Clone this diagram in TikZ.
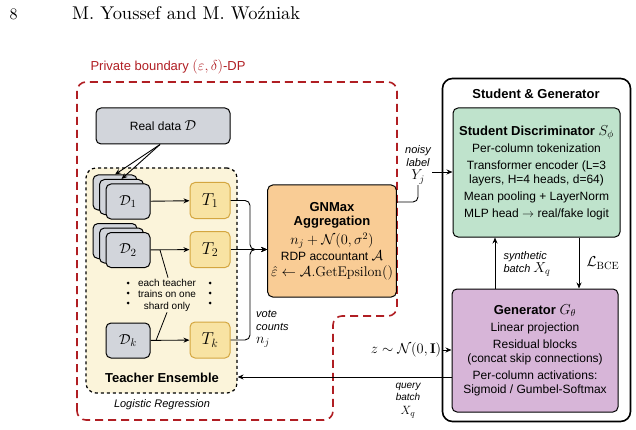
\documentclass[tikz,border=0pt]{standalone}
\usepackage{amsmath}
\usepackage{amssymb}
\usepackage{fontspec}
\setsansfont{Liberation Sans}
\usetikzlibrary{arrows.meta,positioning}

\definecolor{dpred}{HTML}{B01E23}
\definecolor{grayfill}{HTML}{D2D5DB}
\definecolor{ensfill}{HTML}{FBF4DA}
\definecolor{tfill}{HTML}{F8E3A3}
\definecolor{tborder}{HTML}{D4A640}
\definecolor{aggfill}{HTML}{F9CC95}
\definecolor{discfill}{HTML}{BFE3CC}
\definecolor{genfill}{HTML}{D7B5D8}

% larger math inside sans text
\newcommand{\mth}[1]{{\fontsize{14}{16}\selectfont$#1$}}

\begin{document}
\begin{tikzpicture}[x=1pt, y=-1pt, font=\sffamily\fontsize{12}{14}\selectfont,
  >={Stealth[length=6pt,width=5pt]},
  box/.style={draw, rounded corners=5pt, line width=1pt, align=center},
  databox/.style={box, fill=grayfill, minimum width=44pt, minimum height=35pt},
  teacher/.style={box, draw=tborder, fill=tfill, minimum width=40pt, minimum height=36pt, font=\fontsize{17}{19}\selectfont},
  lbl/.style={font=\sffamily\itshape\fontsize{11}{13}\selectfont, align=center, inner sep=1pt}]
\useasboundingbox (0,0) rectangle (636,430);

% Running head
\node[anchor=base west, inner sep=0, font=\rmfamily\fontsize{10}{12}\selectfont] (pgnum) at (9.5,20) {\scalebox{1.6}{8}};
\node[anchor=base west, inner sep=0, font=\rmfamily\fontsize{10}{12}\selectfont] (authors) at (72,20) {\resizebox{228pt}{!}{M. Youssef and M. Woźniak}};

% Private boundary
\draw[dpred, line width=1.6pt, dash pattern=on 8pt off 5pt, rounded corners=9pt]
  (77,420) -- (77,82) -- (397,82) -- (397,316) -- (333,316) -- (333,420) -- cycle;
\node[anchor=west, text=dpred, font=\sffamily\fontsize{13}{15}\selectfont] (dplabel) at (87,67) {Private boundary \mth{(\varepsilon,\delta)}-DP};

% Real data
\node[databox, minimum width=134pt, minimum height=36pt] (real) at (163,126) {Real data \mth{\mathcal{D}}};

% Teacher ensemble
\node[draw, dashed, line width=1.2pt, fill=ensfill, rounded corners=10pt, minimum width=151pt, minimum height=225pt] (ens) at (161.5,280.5) {};
\node[font=\sffamily\bfseries\fontsize{13}{15}\selectfont] (enstitle) at (162,378) {Teacher Ensemble};
\node[lbl] (logreg) at (162,405) {Logistic Regression};

% Shards (stacked)
\foreach \n/\y in {1/201.5, 2/250} {
  \node[databox] (d\n c) at (115,{\y-9}) {};
  \node[databox] (d\n b) at (121.5,{\y-4.5}) {};
  \node[databox, font=\fontsize{15}{17}\selectfont] (d\n) at (128,\y) {$\mathcal{D}_\n$};
}
\node[databox, font=\fontsize{15}{17}\selectfont] (dk) at (128,340.5) {$\mathcal{D}_k$};

% Teachers
\node[teacher] (t1) at (210,200.5) {$T_1$};
\node[teacher] (t2) at (210,249.5) {$T_2$};
\node[teacher] (tk) at (210,340) {$T_k$};

% Dots
\foreach \x in {128, 210}
  \foreach \y in {283, 293, 303}
    \fill (\x,\y) circle (1.5pt);

% Shards -> teachers
\draw[->, line width=0.9pt] (real.south) ++(-3pt,0) coordinate (rs) -- (d1c.north);
\draw[->, line width=0.9pt] (rs) -- (d1b.north);
\draw[->, line width=0.9pt] (d1) -- (t1);
\draw[->, line width=0.9pt] (d2) -- (t2);
\draw[->, line width=0.9pt] (dk) -- (tk);

% Note
\node[font=\sffamily\fontsize{10}{11.5}\selectfont, align=center, inner sep=1pt] (note) at (167,295) {each teacher\\trains on one\\shard only};
\coordinate (n2) at (160,250);
\coordinate (nk) at (156,340.5);
\draw[line width=0.8pt] ([xshift=1pt]note.north) -- (n2);
\draw[line width=0.8pt] (note.south) -- (nk);

% Votes -> aggregation
\node[box, fill=aggfill, minimum width=118pt, minimum height=112pt] (agg) at (332,241) {%
  {\bfseries\fontsize{13}{15}\selectfont GNMax}\\
  {\bfseries\fontsize{13}{15}\selectfont Aggregation}\\[4pt]
  \mth{n_j+\mathcal{N}(0,\sigma^2)}\\[2pt]
  RDP accountant \mth{\mathcal{A}}\\[2pt]
  \mth{\hat{\varepsilon}\leftarrow\mathcal{A}.\mathrm{GetEpsilon}()}};
\coordinate (join) at (250,249.5);
\draw[->, line width=0.9pt, rounded corners=5pt] (t1.east) -| (join) -- (t2.east -| agg.west);
\draw[->, line width=0.9pt, rounded corners=5pt] (tk.east) -| (join) -- (t2.east -| agg.west);
\draw[->, line width=0.9pt] (t2.east) -- (t2.east -| agg.west);
\node[lbl, anchor=north west, align=left] (votes) at (255,309) {vote\\counts\\\mth{n_j}};

% Student & Generator
\node[draw, line width=1.6pt, fill=white, rounded corners=10pt, minimum width=188pt, minimum height=343pt] (sg) at (536.5,250) {};
\node[font=\sffamily\bfseries\fontsize{13}{15}\selectfont] (sgtitle) at (536,94) {Student \& Generator};

\node[box, fill=discfill, minimum width=167pt, minimum height=129pt] (disc) at (536.5,172.5) {%
  {\bfseries\fontsize{13}{15}\selectfont Student Discriminator \mth{S_\phi}}\\[3pt]
  Per-column tokenization\\[3pt]
  Transformer encoder (L=3\\
  layers, H=4 heads, d=64)\\[3pt]
  Mean pooling + LayerNorm\\[3pt]
  MLP head $\rightarrow$ real/fake logit};

\node[box, fill=genfill, minimum width=166pt, minimum height=123pt] (gen) at (535,350.5) {%
  {\bfseries\fontsize{13}{15}\selectfont Generator \mth{G_\theta}}\\[3pt]
  Linear projection\\[3pt]
  Residual blocks\\
  (concat skip connections)\\[3pt]
  Per-column activations:\\
  Sigmoid / Gumbel-Softmax};

% Noisy label
\node[lbl] (noisy) at (418,165) {noisy\\label\\\mth{Y_j}};
\draw[line width=0.9pt, rounded corners=5pt] ([yshift=39pt]agg.east) -| (noisy.south);
\draw[->, line width=0.9pt] ([yshift=-7pt]noisy.east) -- ([yshift=-7pt]noisy.east -| disc.west);

% Generator <-> discriminator
\draw[->, line width=0.9pt] ([xshift=-40pt]gen.north) -- ([xshift=-40pt]gen.north |- disc.south);
\draw[->, line width=0.9pt] ([xshift=42.5pt]disc.south) -- ([xshift=42.5pt]disc.south |- gen.north);
\node[lbl, align=left] (synth) at (527,264) {synthetic\\batch \mth{X_q}};
\node[font=\fontsize{15}{17}\selectfont] (bce) at (603,263) {$\mathcal{L}_{\mathrm{BCE}}$};

% Noise input
\node[inner sep=1pt] (zin) at (406,350) {\mth{z\sim\mathcal{N}(0,\mathbf{I})}};
\draw[->, line width=0.9pt] (zin.east) -- (zin.east -| gen.west);

% Query batch
\draw[->, line width=0.9pt] ([yshift=-26.5pt]gen.west) -- ([yshift=-26.5pt]gen.west -| ens.east);
\node[lbl, font=\sffamily\itshape\fontsize{10}{12}\selectfont] (query) at (408,401) {query\\batch\\[2pt]{\fontsize{13}{15}\selectfont$X_q$}};
\end{tikzpicture}
\end{document}
